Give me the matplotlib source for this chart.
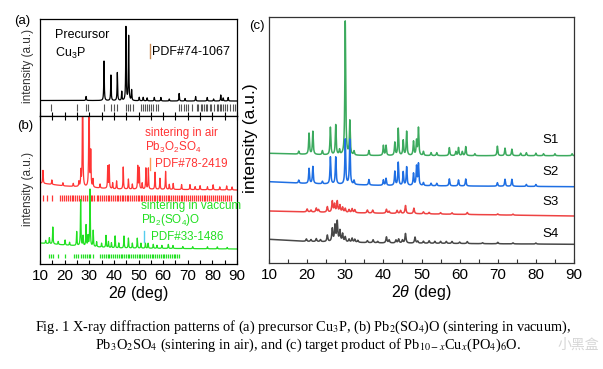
import numpy as np
import matplotlib
matplotlib.use("Agg")
import matplotlib.pyplot as plt

plt.rcParams['font.family'] = ['Liberation Sans', 'DejaVu Sans']
plt.rcParams['mathtext.fontset'] = 'custom'
plt.rcParams['mathtext.rm'] = 'Liberation Sans'
plt.rcParams['mathtext.it'] = 'Liberation Sans:italic'

W, H = 603, 369

# ---- data (2theta in deg, intensity in arbitrary units) ----
two_theta = np.linspace(10, 90, 3201)

# (a) precursor Cu3P
cu3p_bg_x = [10, 30, 60, 90]
cu3p_bg_y = [15.5, 15.5, 15.0, 15.0]
cu3p_pos = [28.7, 36.0, 38.8, 41.4, 43.2, 44.9, 46.0, 47.2, 50.3, 51.9, 53.5, 56.4,
            59.1, 62.5, 66.5, 68.9, 73.2, 77.9, 80.5, 83.4, 84.4, 86.4]
cu3p_hgt = [4, 39.5, 25.5, 28, 9, 73.5, 64.5, 10.5, 3.5, 3.5, 3, 3.5,
            3.5, 2, 7.5, 2.5, 4.5, 3.5, 2, 6, 3, 3.5]
cu3p_pdf = [14.3, 25.2, 28.7, 29.4, 36.1, 38.8, 40.2, 41.1, 44.9, 45.7, 46.5, 47.6,
            50.9, 51.7, 52.6, 53.5, 54.3, 55.2, 56.0, 57.0, 58.0,
            66.6, 67.4, 68.3, 69.2, 70.3, 71.6, 73.6, 74.3, 75.2, 75.9,
            76.6, 77.4, 78.0, 79.0, 79.6, 80.6, 81.8, 82.3, 83.0, 83.6, 84.3, 85.0, 85.8,
            87.2, 88.2, 89.0, 89.9]

# (b) sintering in air: Pb3O2SO4
air_bg_x = [10, 20, 40, 90]
air_bg_y = [81, 78, 75, 74]
air_pos = [11.2, 14.8, 19.3, 23.5, 25.8, 26.6, 27.3, 29.9, 30.6, 31.5, 34.4, 37.5, 38.1,
           39.5, 41.1, 43.8, 45.9, 47.5, 49.7, 50.3, 51.5, 53.0, 54.0, 56.7, 58.7, 61.0,
           62.5, 64.1, 67.5, 70.9, 73.0, 75.0, 78.0, 80.3, 83.0, 85.8, 88.0]
air_hgt = [13, 4.5, 3, 3, 5, 15, 120, 120, 35, 8, 4, 22, 23,
           6, 8, 22, 10, 5, 23, 21, 6, 21, 21, 17, 11, 18,
           5, 6, 5, 5, 3, 4, 3, 5, 3, 4, 3]
air_pdf = [11.3, 12.7, 14.7, 18.1, 19.0, 19.8, 20.6, 21.5, 22.3, 23.0, 23.5, 24.4, 25.2,
           25.8, 26.6, 27.3, 28.1, 28.9, 29.9, 30.6, 31.3, 32.1, 33.0, 33.6, 34.4, 35.1,
           36.0, 36.7, 37.5, 38.1, 38.9, 39.5, 40.3, 41.1, 41.8, 42.6, 43.3, 43.8, 44.6,
           45.3, 45.9, 46.7, 47.5, 48.2, 48.9, 49.7, 50.3, 51.0, 51.5, 52.2, 53.0, 54.0,
           54.7, 55.5, 56.2, 56.7, 57.5, 58.3, 58.7, 59.5, 60.2, 61.0, 61.8, 62.5, 63.3,
           64.1, 64.8, 65.6, 66.4, 67.2, 67.5, 68.3, 69.1, 69.9, 70.9, 71.6, 72.4, 73.2,
           74.0, 74.8, 75.6, 76.4, 77.2, 78.0, 78.8, 79.6, 80.4, 81.2, 82.0, 82.8, 83.6,
           84.4, 85.2, 86.0, 86.8, 87.6]

# (b) sintering in vacuum: Pb2(SO4)O
vac_bg_x = [10, 20, 40, 90]
vac_bg_y = [21, 19, 16, 15]
vac_pos = [12.3, 13.8, 15.2, 17.4, 20.2, 22.0, 24.9, 26.5, 27.5, 28.7, 29.5, 30.3, 31.6,
           33.0, 35.0, 36.8, 37.8, 39.0, 40.5, 42.0, 44.1, 45.9, 47.5, 49.5, 51.0, 52.8,
           53.9, 56.0, 57.5, 59.5, 62.1, 64.0, 68.0, 72.0, 78.0, 82.0, 86.0]
vac_hgt = [3, 6, 17, 3, 5, 3, 14, 46, 10, 21, 10, 57, 16,
           5, 4, 12, 6, 5, 12, 5, 12, 10, 5, 10, 5, 5,
           5, 4, 3, 3, 4, 3, 2, 2, 2, 2, 1.5]
vac_pdf = [13.8, 14.6, 15.4, 17.4, 20.2, 23.8, 24.7, 25.5, 26.5, 27.3, 28.2, 28.9, 29.8,
           30.5, 31.4, 34.4, 35.2, 36.0, 36.8, 37.5, 38.2, 39.0, 39.8, 40.5, 41.3, 42.0,
           42.8, 43.5, 44.1, 44.9, 45.6, 46.3, 47.0, 47.8, 48.5, 49.3, 50.0, 50.8, 51.5,
           52.3, 53.0, 53.8, 54.5, 55.3, 56.0, 56.8, 57.5, 58.3, 59.0, 59.8, 60.5, 61.3,
           62.0, 62.8, 63.5, 64.3, 65.0, 65.8, 66.4]

# (c) target products S1-S4
s1_bg_x = [10, 30, 50, 90]
s1_bg_y = [109.7, 107.5, 107.3, 107.3]
s1_pos = [17.8, 20.5, 21.5, 24.0, 26.1, 27.5, 28.5, 30.0, 31.2, 32.3, 36.2, 40.0, 40.7,
          43.0, 43.9, 45.2, 46.1, 47.9, 48.7, 49.2, 50.5, 52.5, 54.0, 57.3, 59.0, 59.7,
          60.7, 61.6, 64.0, 69.9, 71.9, 73.7, 76.0, 77.5, 80.0, 82.0, 85.0, 89.5]
s1_hgt = [3, 21, 23, 4, 27.5, 30, 5, 134, 34, 4, 5, 10, 10,
          13, 27, 15, 24, 14, 14.5, 27.5, 4, 3, 3, 8, 4, 8,
          4, 9, 2, 9.5, 7.5, 6.5, 2.5, 3, 2.5, 2, 2, 2]

s2_bg_x = [10, 20, 40, 90]
s2_bg_y = [81.3, 79.5, 77.5, 76.3]
s2_pos = [17.8, 20.5, 21.5, 24.0, 26.1, 27.5, 30.0, 31.2, 32.3, 36.2, 40.0, 40.7, 43.0,
          43.9, 45.2, 46.1, 47.9, 48.7, 49.2, 50.5, 52.5, 54.0, 57.3, 59.7, 61.6, 69.9,
          71.9, 73.7, 77.5, 80.0]
s2_hgt = [3, 15, 17, 2.5, 27, 27, 45, 45, 4, 5.5, 5.5, 7, 14,
          23, 13.5, 18.5, 12, 19, 21.5, 3, 2.5, 2.5, 7, 6, 7, 3.5,
          7, 7, 2, 2]

s3_bg_x = [10, 20, 35, 90]
s3_bg_y = [52, 51, 50, 47]
s3_pos = [20.0, 21.0, 22.4, 23.0, 25.3, 26.6, 27.2, 27.9, 28.6, 29.3, 30.0, 31.0, 31.8,
          32.5, 35.8, 37.2, 40.8, 41.5, 43.6, 44.5, 45.8, 48.0, 50.5, 52.0, 55.0, 58.0,
          62.0, 70.0, 74.0]
s3_hgt = [3, 2, 4, 2.5, 5.5, 11, 8, 11, 7, 5, 4, 3, 4,
          3, 3, 3, 4, 2, 3, 3, 8, 5.5, 2, 1.5, 1.5, 1.5,
          2, 1, 1]

s4_bg_x = [10, 20, 40, 90]
s4_bg_y = [23.7, 21.5, 20.0, 18.7]
s4_pos = [19.8, 21.0, 22.4, 23.5, 25.3, 26.6, 27.3, 27.9, 28.6, 29.3, 30.0, 31.0, 31.8,
          32.5, 33.3, 35.8, 37.3, 38.5, 40.8, 41.5, 43.3, 44.0, 45.0, 45.8, 48.3, 49.0,
          50.5, 52.0, 53.5, 55.0, 56.5, 58.0, 60.0, 62.0, 66.0, 70.0, 74.0, 80.0]
s4_hgt = [2.5, 2, 3, 2, 6.5, 13, 16, 20, 11, 8, 5, 3, 4,
          3, 2, 2, 3, 1.5, 6, 3, 3, 4, 3, 9.5, 6, 2,
          2, 2.5, 2, 2, 2, 2, 1.5, 2, 1, 1.5, 1, 1]

sample_names = ['S1', 'S2', 'S3', 'S4']


def pattern(bg_x, bg_y, pos, hgt, gamma=0.12):
    y = np.interp(two_theta, bg_x, bg_y)
    for p, h in zip(pos, hgt):
        y = y + h / (1 + ((two_theta - p) / gamma) ** 2)
    return y


def px_axes(fig, left, top, right, bottom):
    return fig.add_axes([left / W, 1 - bottom / H, (right - left) / W, (bottom - top) / H])


def style_axes(ax, labels=True, top=False, color='black'):
    ax.set_xlim(10, 90)
    ax.set_xticks(range(10, 91, 10))
    ax.set_xticks(range(15, 90, 10), minor=True)
    ax.set_yticks([])
    ax.tick_params(axis='x', which='both', direction='in', length=3, width=0.8,
                   top=top, labelbottom=labels, labelsize=11, pad=3.5, colors=color,
                   labelcolor='black')
    for s in ax.spines.values():
        s.set_linewidth(0.9)
        s.set_color(color)


def ftext(x, y, s, **kw):
    fig.text(x / W, 1 - y / H, s, **kw)


fig = plt.figure(figsize=(W / 100, H / 100), dpi=100)

# ---- (a) ----
ax_a = px_axes(fig, 40, 19, 237, 116)
ax_a.plot(two_theta, pattern(cu3p_bg_x, cu3p_bg_y, cu3p_pos, cu3p_hgt), color='black', lw=0.9)
ax_a.vlines(cu3p_pdf, 5, 12, color='#555555', lw=0.8)
ax_a.set_ylim(0, 97)
style_axes(ax_a, labels=False)

# ---- (b) ----
ax_b = px_axes(fig, 40, 116, 237, 264)
red, green = '#ff3535', '#22e022'
ax_b.plot(two_theta, pattern(air_bg_x, air_bg_y, air_pos, air_hgt), color=red, lw=0.9)
ax_b.vlines(air_pdf, 63, 69, color=red, lw=0.9)
ax_b.plot(two_theta, pattern(vac_bg_x, vac_bg_y, vac_pos, vac_hgt), color=green, lw=0.9)
ax_b.vlines(vac_pdf, 6, 10, color=green, lw=0.9)
ax_b.set_ylim(0, 148)
style_axes(ax_b, top=True)
ax_b.set_xlabel(r'2$\it{\theta}$ (deg)', fontsize=11.5, labelpad=1)

# ---- (c) ----
ax_c = px_axes(fig, 269, 17, 574, 263)
c_colors = ['#3caa5e', '#1f6fe3', '#ee4343', '#484848']
c_data = [(s1_bg_x, s1_bg_y, s1_pos, s1_hgt, 0.13),
          (s2_bg_x, s2_bg_y, s2_pos, s2_hgt, 0.13),
          (s3_bg_x, s3_bg_y, s3_pos, s3_hgt, 0.16),
          (s4_bg_x, s4_bg_y, s4_pos, s4_hgt, 0.16)]
for (bx, by, p, h, g), col in zip(c_data, c_colors):
    ax_c.plot(two_theta, pattern(bx, by, p, h, g), color=col, lw=1.1)
ax_c.set_ylim(0, 246)
style_axes(ax_c, color='#333333')
ax_c.set_xlabel(r'2$\it{\theta}$ (deg)', fontsize=11.5, labelpad=1)

# ---- text ----
ftext(22, 21, '(a)', ha='center', va='center', fontsize=9.5)
ftext(25, 126, '(b)', ha='center', va='center', fontsize=9.5)
ftext(257, 26, '(c)', ha='center', va='center', fontsize=9.5)
ftext(28, 66, 'intensity (a.u.)', rotation=90, ha='center', va='center', fontsize=8.5, color='#333333')
ftext(28, 189, 'intensity (a.u.)', rotation=90, ha='center', va='center', fontsize=8.5, color='#333333')
ftext(250, 138, 'intensity (a.u.)', rotation=90, ha='center', va='center', fontsize=12.5)

ftext(55, 35, 'Precursor', ha='left', va='center', fontsize=9)
ftext(55, 53, 'Cu$_3$P', ha='left', va='center', fontsize=9)
fig.add_artist(plt.Line2D([149.7 / W] * 2, [1 - 44 / H, 1 - 58 / H], color='#c98a55', lw=1.0))
ftext(152, 52, 'PDF#74-1067', ha='left', va='center', fontsize=9)

ftext(145, 133, 'sintering in air', ha='left', va='center', fontsize=8.4, color=red)
ftext(145, 147, 'Pb$_3$O$_2$SO$_4$', ha='left', va='center', fontsize=8.4, color=red)
fig.add_artist(plt.Line2D([150 / W] * 2, [1 - 158 / H, 1 - 170 / H], color='#ff9a55', lw=1.0))
ftext(155, 164, 'PDF#78-2419', ha='left', va='center', fontsize=8.4, color=red)

ftext(141, 206, 'sintering in vaccum', ha='left', va='center', fontsize=8.4, color=green)
ftext(141, 220, 'Pb$_2$(SO$_4$)O', ha='left', va='center', fontsize=8.4, color=green)
fig.add_artist(plt.Line2D([144 / W] * 2, [1 - 231 / H, 1 - 242 / H], color='#55ccee', lw=1.0))
ftext(151, 237, 'PDF#33-1486', ha='left', va='center', fontsize=8.4, color=green)

for name, yy in zip(sample_names, [140, 172, 202, 234]):
    ftext(551, yy, name, ha='center', va='center', fontsize=9.5)

# caption
cap_kw = dict(ha='center', va='center', fontsize=10.4, family='Liberation Serif',
              math_fontfamily='stix')
ftext(303, 327, 'Fig. 1 X-ray diffraction patterns of (a) precursor Cu$_3$P, '
      '(b) Pb$_2$(SO$_4$)O (sintering in vacuum),', **cap_kw)
ftext(308, 345, 'Pb$_3$O$_2$SO$_4$ (sintering in air), and (c) target product of '
      'Pb$_{10-x}$Cu$_x$(PO$_4$)$_6$O.', **cap_kw)

# watermark
ftext(578, 345, '小黑盒', ha='center', va='center', fontsize=10, color='#d6d6d6',
      family=['Noto Sans CJK SC', 'DejaVu Sans'])

fig.savefig('out.png', dpi=100)
